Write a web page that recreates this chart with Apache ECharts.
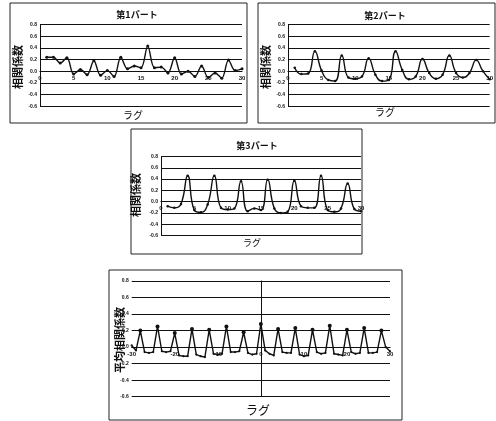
<!DOCTYPE html>
<html>
<head>
<meta charset="utf-8">
<script src="https://cdn.jsdelivr.net/npm/echarts@6/dist/echarts.min.js"></script>
<style>
html,body{margin:0;padding:0;background:#fff;}
#c{width:496px;height:421px;}
</style>
</head>
<body>
<div id="c"></div>
<script>
// ---- data ----
const lagsPart = [1,2,3,4,5,6,7,8,9,10,11,12,13,14,15,16,17,18,19,20,21,22,23,24,25,26,27,28,29,30];
const part1 = [0.24,0.24,0.14,0.23,-0.05,0.03,-0.06,0.18,-0.07,0.01,-0.09,0.24,0.04,0.09,0.06,0.43,0.06,0.07,-0.03,0.23,-0.05,0.0,-0.09,0.09,-0.11,-0.03,-0.12,0.19,0.01,0.04];
const part2 = [0.06,-0.05,-0.04,0.34,0.01,-0.15,-0.17,0.27,-0.11,-0.13,-0.09,0.22,-0.06,-0.17,-0.15,0.34,0.02,-0.14,-0.09,0.21,-0.03,-0.13,-0.06,0.27,-0.03,-0.11,-0.03,0.19,0.0,-0.14];
const part3 = [-0.08,-0.11,-0.04,0.46,-0.15,-0.19,-0.05,0.46,-0.11,-0.14,-0.12,0.36,-0.17,-0.12,-0.15,0.39,-0.12,-0.2,-0.18,0.37,-0.08,-0.11,-0.11,0.46,-0.15,-0.18,-0.12,0.32,-0.13,-0.17];
const lagsAvg = [-30,-29,-28,-27,-26,-25,-24,-23,-22,-21,-20,-19,-18,-17,-16,-15,-14,-13,-12,-11,-10,-9,-8,-7,-6,-5,-4,-3,-2,-1,0,1,2,3,4,5,6,7,8,9,10,11,12,13,14,15,16,17,18,19,20,21,22,23,24,25,26,27,28,29,30];
const avgCorr = [0.02,-0.04,0.20,-0.06,-0.07,-0.06,0.25,-0.05,-0.06,-0.05,0.17,-0.10,-0.11,-0.11,0.22,-0.09,-0.11,-0.12,0.21,-0.08,-0.09,-0.08,0.25,-0.06,-0.06,-0.05,0.18,-0.07,-0.09,-0.08,0.28,-0.04,-0.08,-0.10,0.22,-0.06,-0.07,-0.07,0.23,-0.09,-0.11,-0.10,0.21,-0.06,-0.08,-0.07,0.26,-0.08,-0.09,-0.10,0.21,-0.06,-0.08,-0.07,0.23,-0.07,-0.07,-0.06,0.20,0.0,-0.05];
const titles = ['第1パート','第2パート','第3パート'];
const yName = '相関係数';
const yNameAvg = '平均相関係数';
const xName = 'ラグ';
const Y_MIN = -0.6, Y_MAX = 0.8, Y_STEP = 0.2;

// ---- styling / layout ----
const JP = '"Noto Sans CJK JP"';
const NUM = '"Liberation Sans", "DejaVu Sans", sans-serif';
const INK = '#111';

const grids = [
  {left:40, top:24.5, width:202, height:81.7},
  {left:288, top:24.5, width:202, height:81.7},
  {left:161, top:156.5, width:200, height:79},
  {left:131.7, top:281, width:258.3, height:115.7}
];

function yAx(gi){
  return {
    type:'value', gridIndex:gi, min:Y_MIN, max:Y_MAX, interval:Y_STEP,
    axisLine:{show:true, onZero: gi===3, lineStyle:{color:INK, width:1}},
    axisTick:{show:false},
    splitLine:{show:true, lineStyle:{color:INK, width:1.2}},
    axisLabel:{fontSize:5, color:INK, fontFamily:NUM, fontWeight:'bold', margin:3,
      formatter:v=>(Math.abs(v)<1e-9?0:v).toFixed(1)}
  };
}
function xAx(gi, min, max, interval){
  // put the lag axis on the zero line of the value axis
  const off = -grids[gi].height * (0 - Y_MIN) / (Y_MAX - Y_MIN);
  return {
    type:'value', gridIndex:gi, min:min, max:max, interval:interval,
    offset: off,
    axisLine:{show:true, onZero:false, lineStyle:{color:INK, width:1.2}},
    axisTick:{show:false},
    splitLine:{show:false},
    axisLabel:{fontSize:6, color:INK, fontFamily:NUM, fontWeight:'bold', margin:4,
      showMinLabel:true, showMaxLabel:true, hideOverlap:false,
      alignMinLabel:'center', alignMaxLabel:'center',
      formatter:v=>String(Math.round(v))}
  };
}
function pairs(xs, ys){ return xs.map((x,i)=>[x, ys[i]]); }

function txt(x,y,text,size,rot,bold){
  return {type:'text', x:x, y:y, rotation:rot||0, silent:true,
    style:{text:text, fill:INK, align:'center', verticalAlign:'middle',
      font:(bold?'bold ':'')+size+'px '+JP}};
}
function box(x,y,w,h){
  return {type:'rect', shape:{x:x,y:y,width:w,height:h}, silent:true,
    style:{fill:'none', stroke:'#222', lineWidth:1}};
}

const lineSeries = (gi, data, smooth, sym) => ({
  type:'line', xAxisIndex:gi, yAxisIndex:gi, data:data, smooth:smooth,
  symbol:'circle', symbolSize:sym, itemStyle:{color:INK},
  lineStyle:{color:INK, width:1.4}, animation:false
});

const option = {
  backgroundColor:'#fff',
  animation:false,
  grid: grids,
  xAxis:[xAx(0,0,30,5), xAx(1,0,30,5), xAx(2,0,30,5), xAx(3,-30,30,10)],
  yAxis:[yAx(0), yAx(1), yAx(2), yAx(3)],
  series:[
    lineSeries(0, pairs(lagsPart, part1), 0.35, 3),
    lineSeries(1, pairs(lagsPart, part2), 0.5, 2.5),
    lineSeries(2, pairs(lagsPart, part3), 0.5, 2.5),
    Object.assign(lineSeries(3, pairs(lagsAvg, avgCorr), false, 2.5),
      {symbolSize:(v)=> v[1] > 0.1 ? 4 : 2.2})
  ],
  graphic:[
    box(10,3,237,120), box(258,3,237,120), box(131,129,231,125), box(109,270,293,150),
    txt(137,15,titles[0],9,0,true),
    txt(385,16,titles[1],9,0,true),
    txt(257,146,titles[2],9,0,true),
    txt(18,67,yName,11,Math.PI/2,true),
    txt(266,67,yName,11,Math.PI/2,true),
    txt(136,195,yName,11,Math.PI/2,true),
    txt(120,340,yNameAvg,11,Math.PI/2,true),
    txt(133,115,xName,10,0,false),
    txt(385,112,xName,10,0,false),
    txt(252,243,xName,9,0,false),
    txt(258,410,xName,12,0,false)
  ]
};
const chart = echarts.init(document.getElementById('c'), null, {renderer:'canvas', width:496, height:421});
chart.setOption(option);
</script>
</body>
</html>
